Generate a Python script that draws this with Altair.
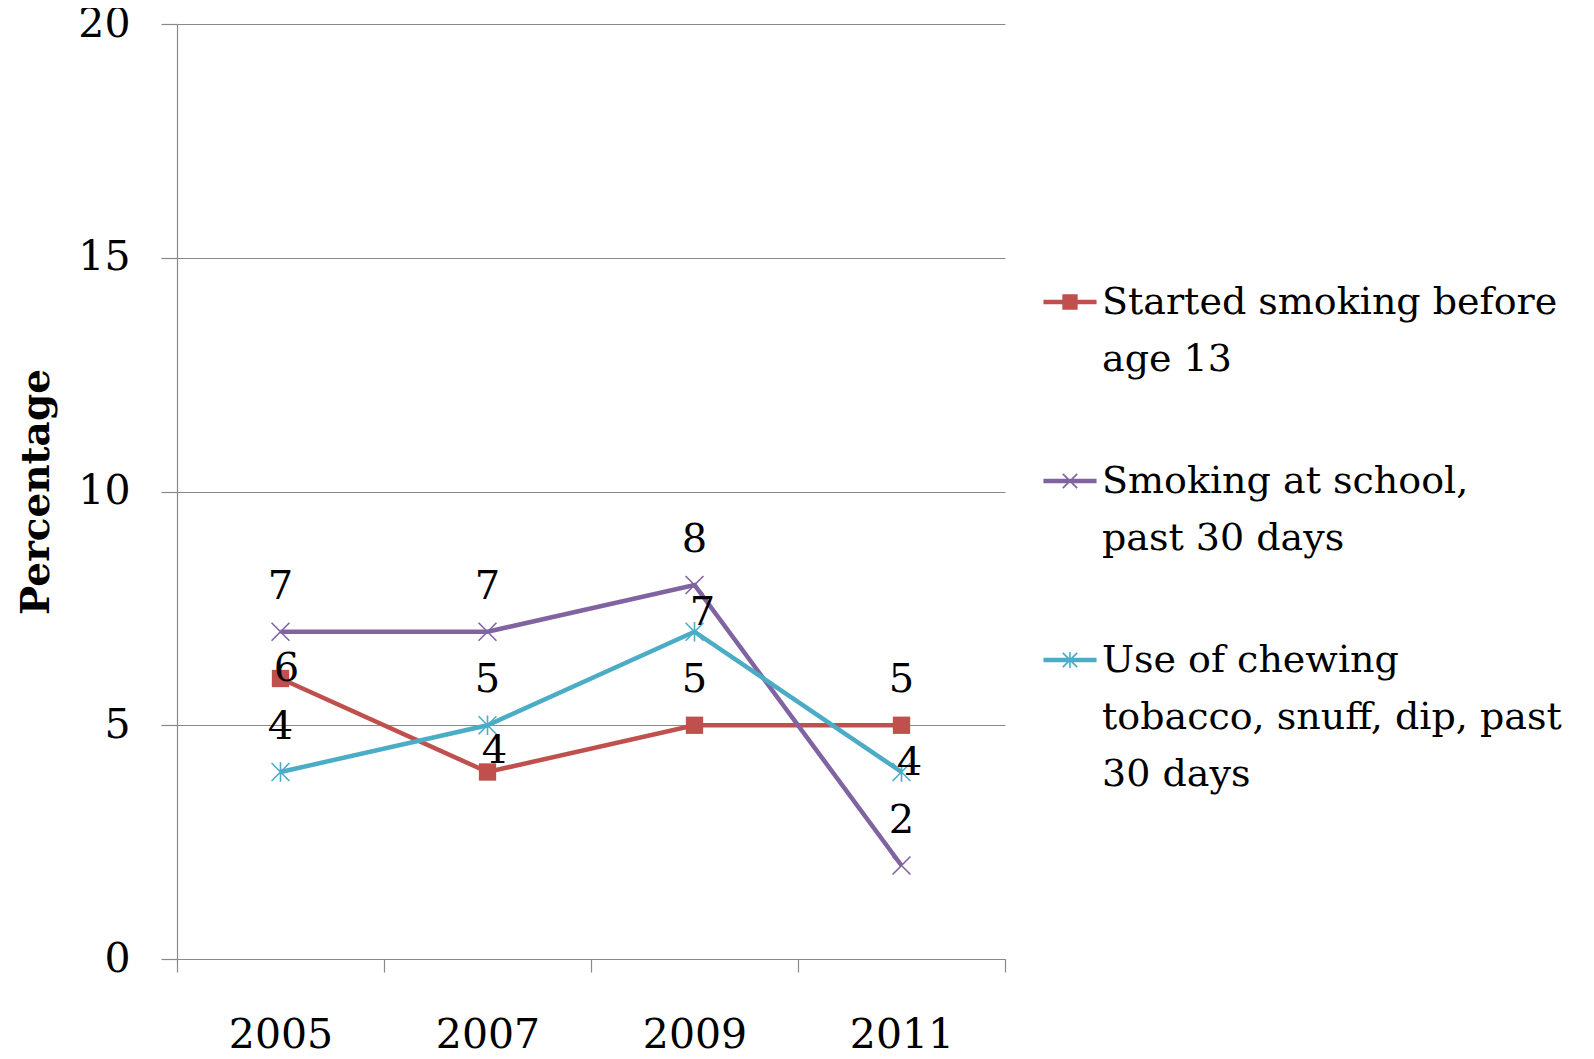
import altair as alt
import pandas as pd
import math

# ---- data ----
years = [2005, 2007, 2009, 2011]
series_names = [
    "Started smoking before age 13",
    "Smoking at school, past 30 days",
    "Use of chewing tobacco, snuff, dip, past 30 days",
]
started_before_13 = [6, 4, 5, 5]
smoking_at_school = [7, 7, 8, 2]
chewing_tobacco = [4, 5, 7, 4]
series_values = [started_before_13, smoking_at_school, chewing_tobacco]
legend_lines = [
    ["Started smoking before", "age 13"],
    ["Smoking at school,", "past 30 days"],
    ["Use of chewing", "tobacco, snuff, dip, past", "30 days"],
]
y_ticks = [0, 5, 10, 15, 20]

rows = []
for name, vals in zip(series_names, series_values):
    for yr, v in zip(years, vals):
        rows.append({"year": yr, "series": name, "value": v})
df = pd.DataFrame(rows)

# ---- style ----
colors = ["#C0504D", "#8064A2", "#4BACC6"]
FONT = "DejaVu Serif"
GRAY = "#898989"
W, H = 828, 935
SYM_DY = 2.0  # legend symbol vertical shift (symbol units) to line up with first label line


def bar(x1, y1, x2, y2, t):
    y1 += SYM_DY
    y2 += SYM_DY
    dx, dy = x2 - x1, y2 - y1
    L = math.hypot(dx, dy)
    px, py = -dy / L * t, dx / L * t
    pts = [(x1 + px, y1 + py), (x2 + px, y2 + py), (x2 - px, y2 - py), (x1 - px, y1 - py)]
    return "M" + "L".join(f"{a:.3f},{b:.3f}" for a, b in pts) + "Z"


line_bar = bar(-2.95, 0, 2.95, 0, 0.25)
legend_shapes = [
    line_bar + bar(-0.85, 0, 0.85, 0, 0.85),
    line_bar + bar(-0.8, -0.8, 0.8, 0.8, 0.09) + bar(-0.8, 0.8, 0.8, -0.8, 0.09),
    line_bar + bar(-0.8, -0.8, 0.8, 0.8, 0.09) + bar(-0.8, 0.8, 0.8, -0.8, 0.09)
    + bar(0, -0.9, 0, 0.9, 0.09),
]
marker_shapes = [
    "square",
    "M-1,-1L1,1M-1,1L1,-1",
    "M-1,-1L1,1M-1,1L1,-1M0,-1.1L0,1.1",
]

x_enc = alt.X(
    "year:Q",
    scale=alt.Scale(domain=[years[0] - 1, years[-1] + 1], nice=False, zero=False),
    axis=alt.Axis(
        values=list(range(years[0] - 1, years[-1] + 2)),
        labelExpr="datum.value % 2 == 1 ? '' + datum.value : ''",
        tickOpacity={"condition": {"test": "datum.value % 2 == 0", "value": 1}, "value": 0},
        grid=False,
        tickSize=13,
        labelPadding=43,
        labelBaseline="top",
        labelOverlap=False,
        labelFlush=False,
        title=None,
    ),
)
y_enc = alt.Y(
    "value:Q",
    scale=alt.Scale(domain=[0, 20], nice=False),
    axis=alt.Axis(
        values=y_ticks,
        grid=True,
        tickSize=16,
        labelPadding=31,
        title="Percentage",
        titleFont=FONT,
        titleFontWeight="bold",
        titleFontSize=39,
        titleAngle=270,
        titleX=-141,
        titleY=H / 2,
        titleAlign="center",
        titleBaseline="middle",
    ),
)

base = alt.Chart(df)

line_layers = []
marker_layers = []
for i, (name, shp, col) in enumerate(zip(series_names, marker_shapes, colors)):
    one = base.transform_filter(alt.datum.series == name)
    line_layers.append(
        one.mark_line(strokeWidth=4.5, color=col).encode(
            x=x_enc if i == 0 else "year:Q",
            y=y_enc if i == 0 else "value:Q",
            order="year:Q",
        )
    )
    filled = shp == "square"
    marker_layers.append(
        one.mark_point(
            shape=shp, filled=filled, size=300 if filled else 320,
            color=col, strokeWidth=1.6, opacity=1,
        ).encode(x="year:Q", y="value:Q")
    )

# label nudges (dx, dy) in pixels; default is above the point
nudges = {
    (series_names[0], 2005): (6, -10),
    (series_names[0], 2007): (7, -21),
    (series_names[2], 2009): (8, -19),
    (series_names[2], 2011): (8, -9),
}
default_nudge = (0, -45)
groups = {}
for name in series_names:
    for yr in years:
        groups.setdefault(nudges.get((name, yr), default_nudge), []).append((name, yr))

text_layers = []
for (ndx, ndy), members in groups.items():
    test = " || ".join(
        f"(datum.series == '{n}' && datum.year == {y})" for n, y in members
    )
    text_layers.append(
        base.transform_filter(test).mark_text(
            font=FONT, fontSize=40, color="black", dx=ndx, dy=ndy,
            align="center", baseline="middle",
        ).encode(x="year:Q", y="value:Q", text="value:Q")
    )

label_expr = ""
for name, parts in zip(series_names, legend_lines):
    arr = "[" + ",".join("'" + p + "'" for p in parts) + "]"
    label_expr += f"datum.label == '{name}' ? {arr} : "
label_expr += "datum.label"

legend_def = alt.Legend(
    orient="none", legendX=874, legendY=241, padding=0,
    symbolSize=324, symbolStrokeWidth=0, symbolOpacity=1,
    labelFont=FONT, labelFontSize=38, labelOffset=13, labelLimit=800,
    labelBaseline="top", rowPadding=65, labelColor="black",
    labelExpr=label_expr,
)

legend_layer = base.transform_filter(alt.datum.year == years[0]).mark_point(
    filled=True, opacity=0
).encode(
    x="year:Q", y="value:Q",
    color=alt.Color("series:N", scale=alt.Scale(domain=series_names, range=colors),
                    legend=legend_def, title=None),
    shape=alt.Shape(
        "series:N", scale=alt.Scale(domain=series_names, range=legend_shapes),
        legend=legend_def, title=None,
    ),
)

chart = alt.layer(
    *line_layers, *marker_layers, *text_layers, legend_layer
).properties(
    width=W, height=H,
    autosize=alt.AutoSizeParams(type="none"),
    padding={"left": 169, "top": 16, "right": 581, "bottom": 100},
).configure(
    style={"guide-label": {"lineHeight": 57}},
    view=alt.ViewConfig(stroke=None),
    axis=alt.AxisConfig(
        labelFont=FONT, labelFontSize=41, labelColor="black",
        domainColor=GRAY, tickColor=GRAY, gridColor=GRAY,
        domainWidth=1.2, tickWidth=1.2, gridWidth=1.2,
        titleColor="black",
    ),
)

chart.save("out.html", embed_options={"renderer": "svg", "actions": False})
